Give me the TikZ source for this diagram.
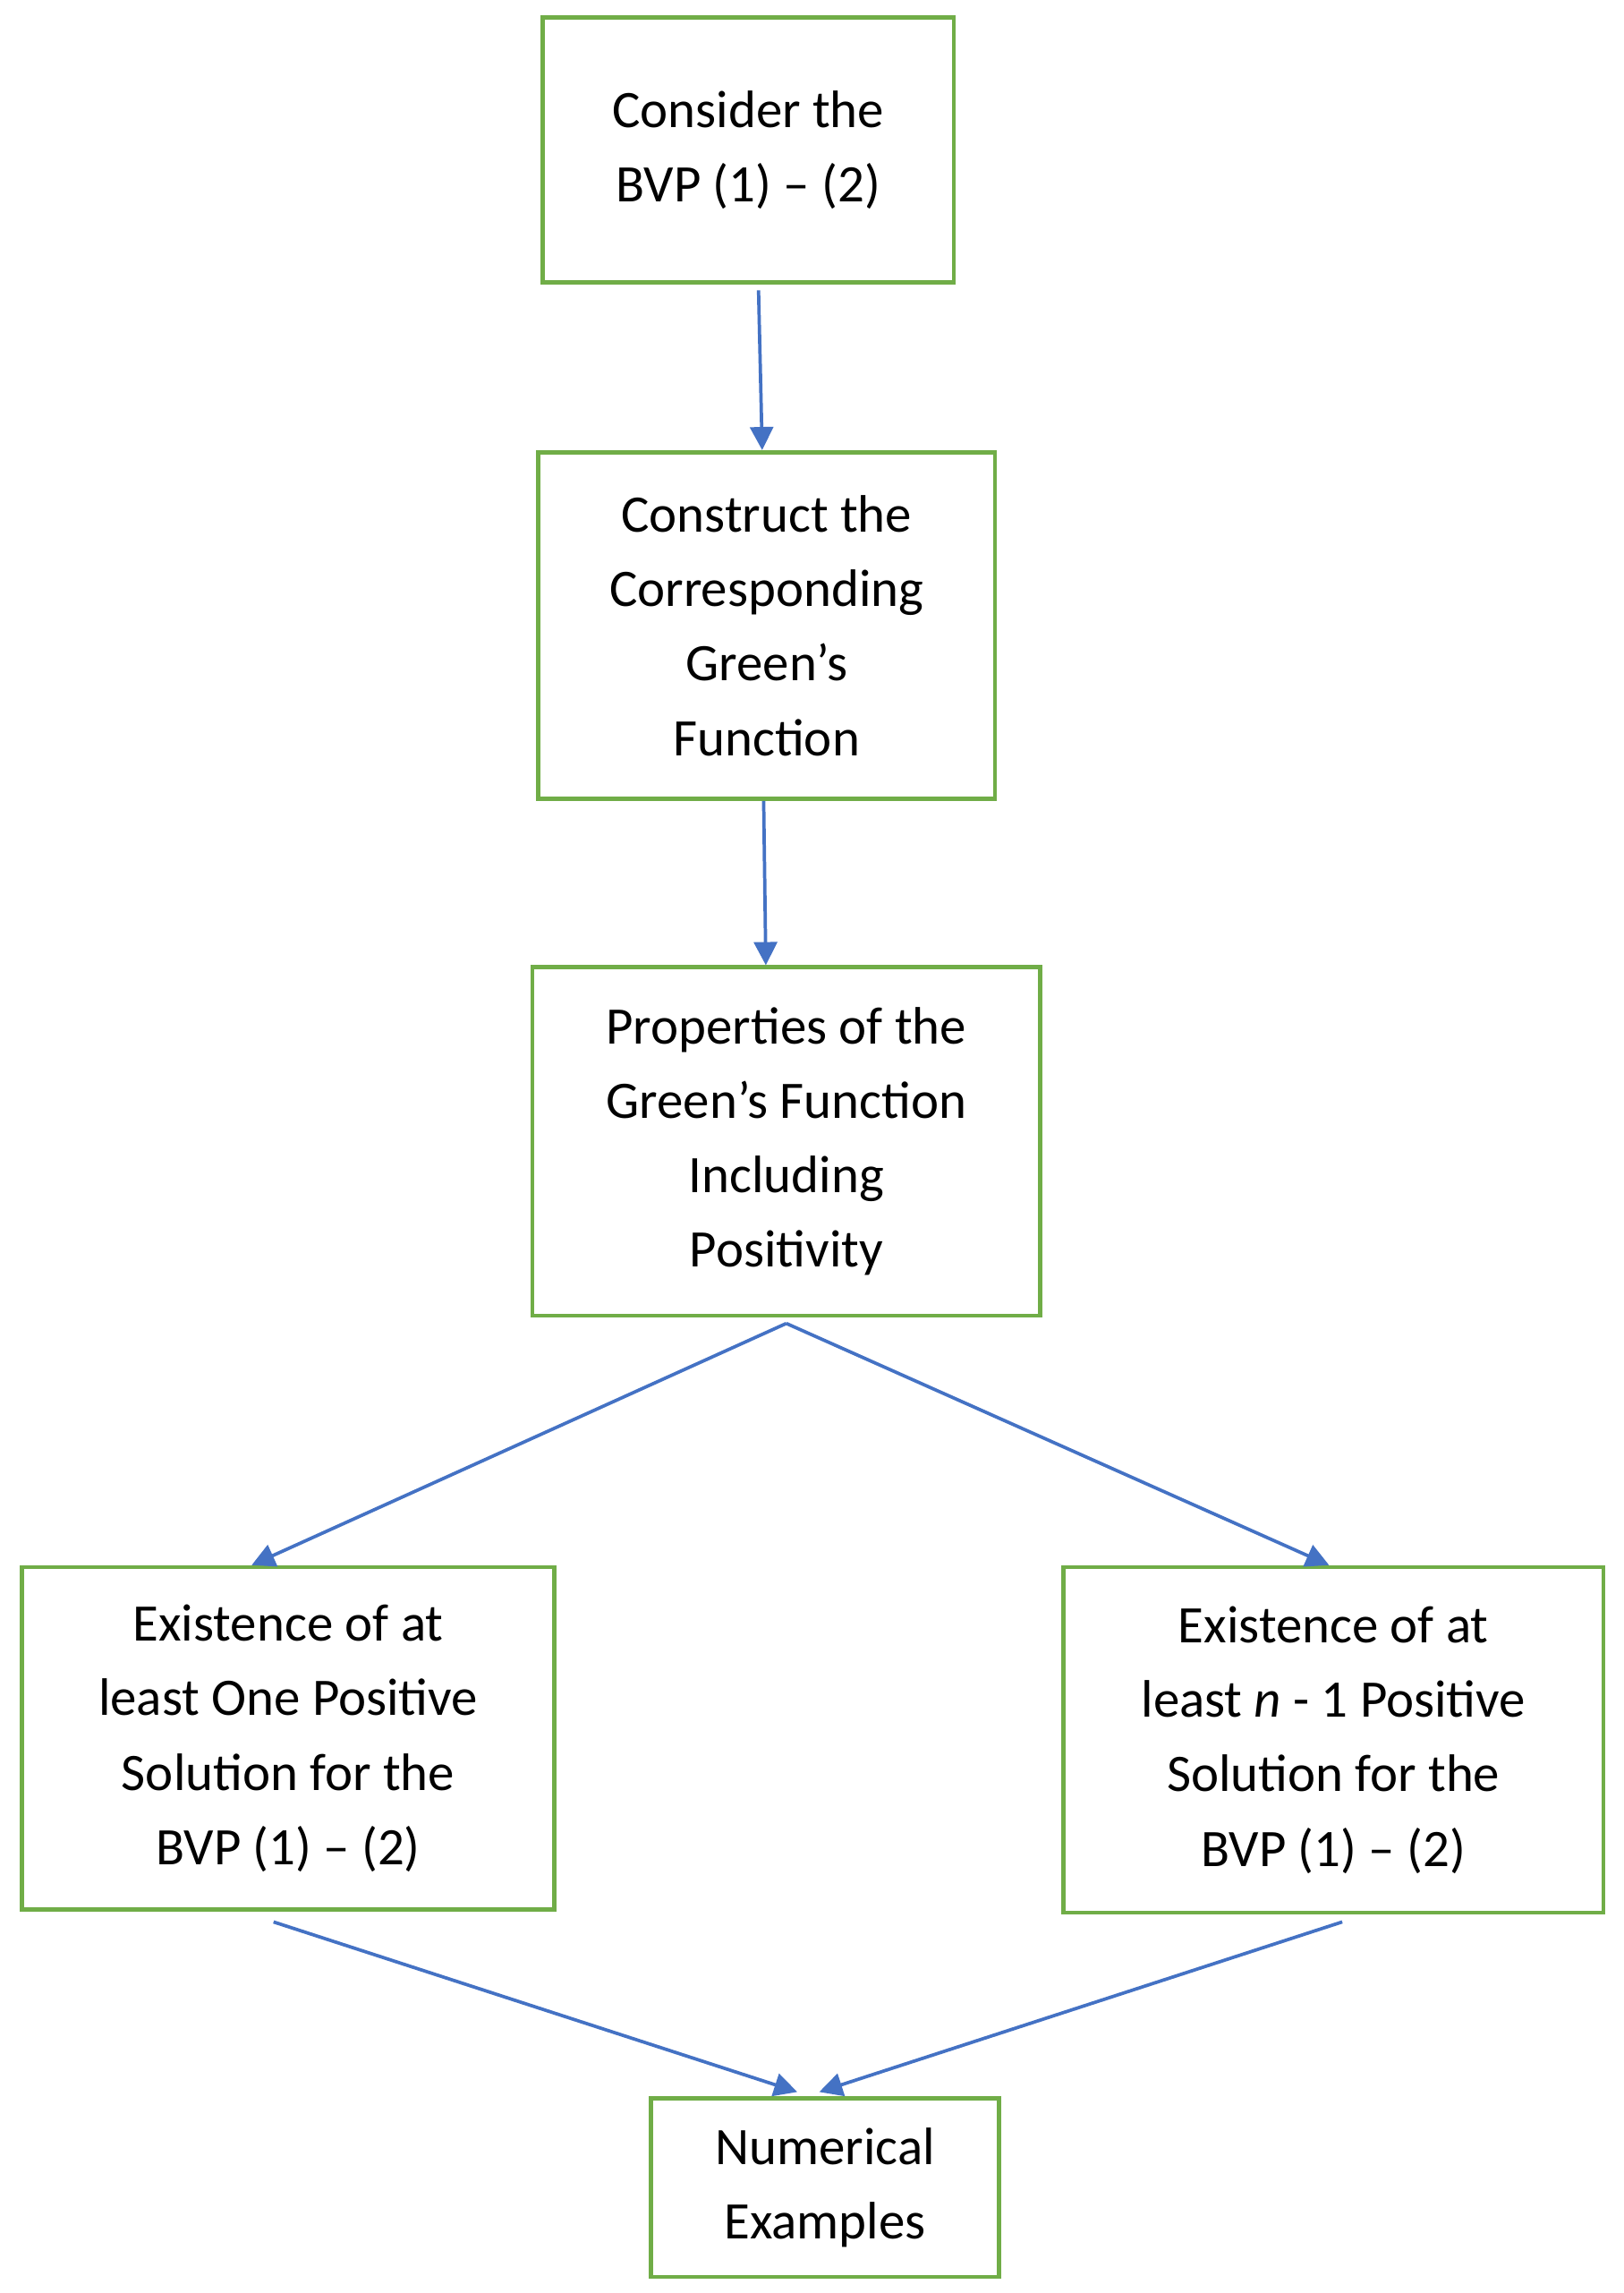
\documentclass[tikz,border=0pt]{standalone}
\usepackage{fontspec}
\setmainfont{Carlito}
\usetikzlibrary{arrows.meta}
\definecolor{gbox}{RGB}{112,173,71}
\definecolor{barr}{RGB}{68,114,196}
\begin{document}
\begin{tikzpicture}[x=0.02cm,y=-0.02cm,
  box/.style={draw=gbox,line width=1.6pt,align=center,inner sep=0pt,
    font=\fontsize{20.5}{29}\selectfont},
  arr/.style={draw=barr,line width=1.3pt,-{Triangle[length=9pt,width=9pt]}}]
\useasboundingbox (0,0) rectangle (1110,1567);
\node[box,minimum width=281*0.02cm,minimum height=181*0.02cm] (b1) at (511.5,102.5) {Consider the\\BVP (1) – (2)};
\node[box,minimum width=312*0.02cm,minimum height=237*0.02cm] (b2) at (524,427.5) {Construct the\\Corresponding\\Green’s\\Function};
\node[box,minimum width=347*0.02cm,minimum height=238*0.02cm] (b3) at (537.5,780) {Properties of the\\Green’s Function\\Including\\Positivity};
\node[box,minimum width=364*0.02cm,minimum height=234*0.02cm] (b4) at (197,1188) {Existence of at\\least One Positive\\Solution for the\\BVP (1) – (2)};
\node[box,minimum width=369*0.02cm,minimum height=236*0.02cm] (b5) at (911.5,1189) {Existence of at\\least \textit{n} - 1 Positive\\Solution for the\\BVP (1) – (2)};
\node[box,minimum width=238*0.02cm,minimum height=122*0.02cm] (b6) at (564,1495) {Numerical\\Examples};
\draw[arr] ([xshift=7*0.02cm,yshift=-4*0.02cm]b1.south) -- ([xshift=-3*0.02cm]b2.north);
\draw[arr] ([xshift=-2*0.02cm]b2.south) -- ([xshift=-14*0.02cm]b3.north);
\draw[arr] ([yshift=-4*0.02cm]b3.south) -- ([xshift=-25*0.02cm]b4.north);
\draw[arr] ([yshift=-4*0.02cm]b3.south) -- ([xshift=-3*0.02cm]b5.north);
\draw[arr] ([xshift=-10*0.02cm,yshift=-7*0.02cm]b4.south) -- ([xshift=-19*0.02cm,yshift=3*0.02cm]b6.north);
\draw[arr] ([xshift=6*0.02cm,yshift=-5*0.02cm]b5.south) -- ([xshift=-4*0.02cm,yshift=3*0.02cm]b6.north);
\end{tikzpicture}
\end{document}
